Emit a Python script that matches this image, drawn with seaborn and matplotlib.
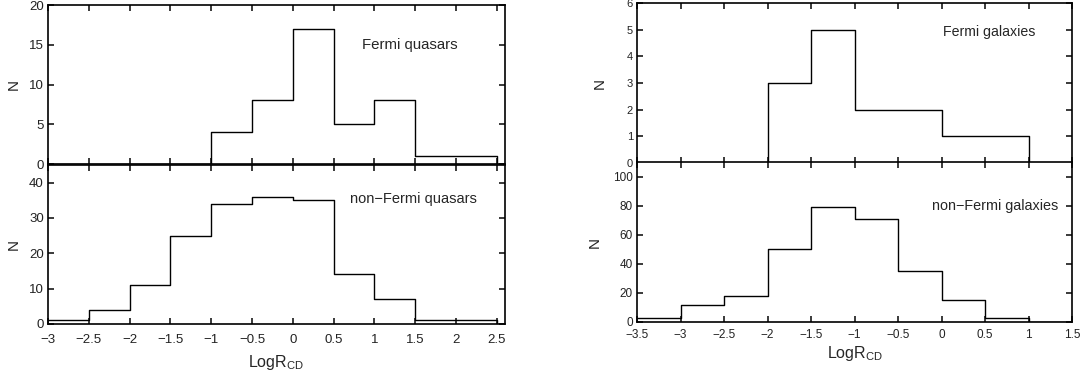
import numpy as np
import pandas as pd
import seaborn as sns
import matplotlib.pyplot as plt

# bin edges (width 0.5) and counts
quasar_edges = [-3.0, -2.5, -2.0, -1.5, -1.0, -0.5, 0.0, 0.5, 1.0, 1.5, 2.0, 2.5, 3.0]
fermi_quasars = [0, 0, 0, 0, 4, 8, 17, 5, 8, 1, 1, 0]
nonfermi_quasars = [1, 4, 11, 25, 34, 36, 35, 14, 7, 1, 1, 0]

galaxy_edges = [-3.5, -3.0, -2.5, -2.0, -1.5, -1.0, -0.5, 0.0, 0.5, 1.0, 1.5, 2.0]
fermi_galaxies = [0, 0, 0, 3, 5, 2, 2, 1, 1, 0, 0]
nonfermi_galaxies = [3, 12, 18, 50, 79, 71, 35, 15, 3, 0, 0]

sns.set_theme(style="ticks")
plt.rcParams['font.family'] = ['Liberation Sans', 'DejaVu Sans']

fig = plt.figure(figsize=(10.88, 3.87), dpi=100)
positions = {
    'lt': [0.0441, 0.576, 0.420, 0.411],
    'lb': [0.0441, 0.163, 0.420, 0.411],
    'rt': [0.5855, 0.579, 0.3998, 0.413],
    'rb': [0.5855, 0.168, 0.3998, 0.413],
}


def step_hist(ax, edges, counts):
    centers = [e + 0.25 for e in edges[:-1]]
    df = pd.DataFrame({'x': centers, 'n': counts})
    sns.histplot(data=df, x='x', weights='n', bins=list(edges), element='step',
                 fill=False, color='black', linewidth=1.0, ax=ax)


def style(ax, xlim, ylim, yticks, xticks, show_x, size, xpad):
    ax.set_xlim(*xlim)
    ax.set_ylim(*ylim)
    ax.set_yticks(yticks)
    ax.set_xticks(xticks)
    ax.tick_params(direction='in', top=True, right=True, length=4,
                   labelsize=size, colors='#222222', pad=3)
    ax.tick_params(axis='x', labelbottom=show_x, pad=xpad)
    ax.set_yticklabels([str(t) for t in yticks])
    if show_x:
        ax.set_xticklabels([('%g' % t).replace('-', '\u2212') for t in xticks])
    for s in ax.spines.values():
        s.set_linewidth(1.2)
        s.set_color('black')
    ax.set_ylabel('N', fontsize=11, labelpad=6)
    ax.set_xlabel('')


q_ticks = np.arange(-3, 2.51, 0.5)
g_ticks = np.arange(-3.5, 1.51, 0.5)

ax = fig.add_axes(positions['lt'])
step_hist(ax, quasar_edges, fermi_quasars)
style(ax, (-3, 2.6), (0, 20), [0, 5, 10, 15, 20], q_ticks, False, 9.5, 6)
ax.text(0.85, 15, 'Fermi quasars', fontsize=10.8, va='center')

ax = fig.add_axes(positions['lb'])
step_hist(ax, quasar_edges, nonfermi_quasars)
style(ax, (-3, 2.6), (0, 45), [0, 10, 20, 30, 40], q_ticks, True, 9.5, 7)
ax.text(0.70, 35.4, 'non\u2212Fermi quasars', fontsize=10.5, va='center')
ax.set_xlabel('LogR$_{\\mathregular{CD}}$', fontsize=11.5, labelpad=5)

ax = fig.add_axes(positions['rt'])
step_hist(ax, galaxy_edges, fermi_galaxies)
style(ax, (-3.5, 1.5), (0, 6), [0, 1, 2, 3, 4, 5, 6], g_ticks, False, 8, 5)
ax.text(0.02, 4.9, 'Fermi galaxies', fontsize=10.2, va='center')
ax.yaxis.labelpad = 14

ax = fig.add_axes(positions['rb'])
step_hist(ax, galaxy_edges, nonfermi_galaxies)
style(ax, (-3.5, 1.5), (0, 110), [0, 20, 40, 60, 80, 100], g_ticks, True, 8.5, 5)
ax.text(-0.11, 79.7, 'non\u2212Fermi galaxies', fontsize=10.4, va='center')
ax.set_xlabel('LogR$_{\\mathregular{CD}}$', fontsize=11.5, labelpad=2)
ax.yaxis.labelpad = 8

fig.savefig('out.png', dpi=100)
